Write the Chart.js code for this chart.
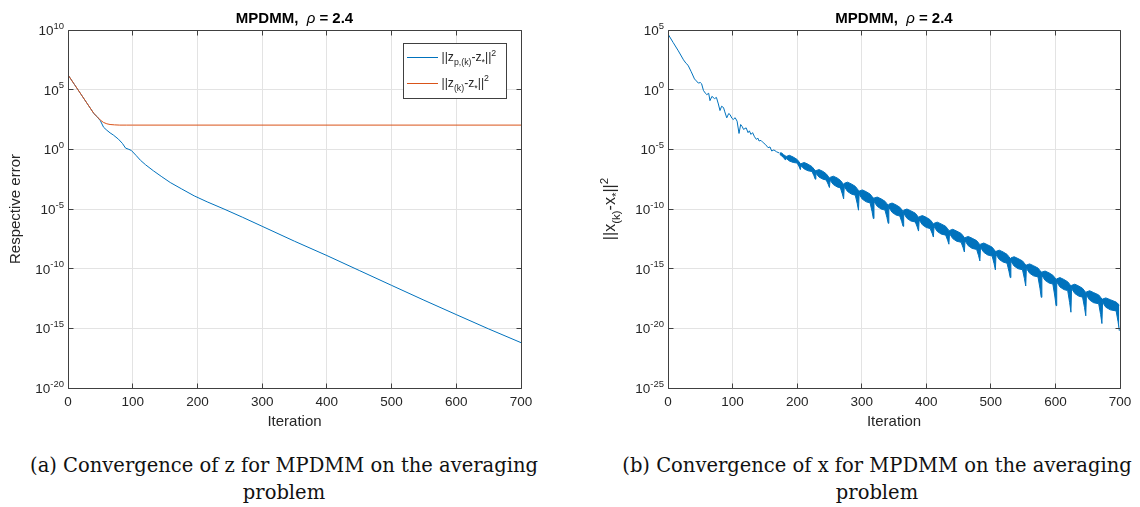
<!DOCTYPE html>
<html>
<head>
<meta charset="utf-8">
<script src="https://cdn.jsdelivr.net/npm/chart.js@4.4.0/dist/chart.umd.min.js"></script>
<style>
  html, body { margin: 0; padding: 0; background: #fff; }
  body { width: 1140px; height: 507px; position: relative; overflow: hidden; }
  canvas { position: absolute; top: 0; }
  #left { left: 0; }
  #right { left: 580px; }
  .cap { position: absolute; top: 452px; width: 600px; font-family: "DejaVu Serif", serif; font-size: 19.5px;
         line-height: 27px; text-align: center; color: #111; white-space: nowrap; }
</style>
</head>
<body>
<canvas id="left" width="560" height="440"></canvas>
<canvas id="right" width="560" height="440"></canvas>
<div class="cap" style="left:-16px">(a) Convergence of z for MPDMM on the averaging<br>problem</div>
<div class="cap" style="left:577px">(b) Convergence of x for MPDMM on the averaging<br>problem</div>
<script>
// all series values are log10 of the error

// left: z errors
const zpIter = [0, 10, 20, 30, 40, 45, 50, 55, 60, 65, 70, 78, 84, 89, 94, 98, 105, 112, 120, 132, 145, 158, 175, 195, 215, 241, 270, 300, 350, 400, 450, 500, 550, 600, 650, 700];
const zpLog  = [6.24, 5.43, 4.62, 3.81, 3.0, 2.72, 2.4, 1.85, 1.6, 1.38, 1.2, 0.85, 0.5, 0.1, 0.0, -0.1, -0.5, -0.92, -1.3, -1.8, -2.3, -2.78, -3.3, -3.9, -4.4, -5.0, -5.7, -6.45, -7.7, -8.9, -10.15, -11.4, -12.64, -13.85, -15.05, -16.2];
const zIter  = [0, 10, 20, 30, 40, 45, 50, 55, 60, 65, 72, 80, 90, 100, 700];
const zLog   = [6.24, 5.43, 4.62, 3.81, 3.0, 2.74, 2.45, 2.25, 2.14, 2.08, 2.05, 2.03, 2.03, 2.03, 2.03];

// right: x error, single line before the band starts
const xIter = [0, 8, 16, 24, 28, 31, 36, 41, 44, 47, 50, 52, 55, 58, 60, 63, 65, 68, 72, 75, 78, 80.5, 83, 86, 88, 91, 94, 96, 99, 101, 104, 107, 110, 112.5, 115, 117, 121, 124, 126, 128.5, 131, 134, 137, 139, 141, 144, 147.6, 151, 155, 158, 160.6, 164, 168, 172];
const xLog  = [4.66, 3.95, 3.25, 2.5, 2.2, 2.05, 1.5, 0.9, 0.73, 0.55, 0.6, 0.5, -0.08, -0.3, -0.42, -0.3, -0.92, -0.56, -0.75, -0.65, -1.2, -1.75, -1.39, -1.5, -1.86, -2.36, -2.0, -2.08, -2.4, -2.5, -2.35, -2.64, -3.67, -2.92, -3.1, -3.33, -3.2, -3.6, -3.45, -3.75, -3.6, -3.95, -4.17, -4.05, -4.3, -4.25, -4.45, -4.6, -4.86, -4.8, -5.14, -5.05, -5.2, -5.3];

// right: the fast oscillation from ~170 on, as upper / lower edge of the band
// (one row per scallop, the last point of a row is the spike)
const bandIter = [
  173, 176, 179, 182,
  183, 188, 194, 200, 203, 205,
  206, 211, 217, 223, 226, 228,
  229, 234, 240, 245, 248, 250,
  251, 256, 262, 267, 270, 272,
  273, 278, 284, 290, 293, 295,
  296, 301, 307, 313, 316, 318,
  319, 324, 330, 336, 339, 341,
  342, 347, 353, 359, 362, 364,
  365, 370, 376, 383, 386, 388,
  389, 394, 400, 406, 409, 411,
  412, 417, 423, 430, 433, 435,
  436, 441, 447, 454, 457, 459,
  460, 465, 471, 478, 481, 483,
  484, 489, 495, 502, 505, 507,
  508, 513, 519, 525, 528, 530,
  531, 536, 542, 549, 552, 554,
  555, 560, 566, 573, 576, 578,
  579, 584, 590, 596, 599, 601,
  602, 607, 613, 619, 622, 624,
  625, 630, 636, 642, 645, 647,
  648, 653, 659, 667, 670, 672,
  673, 678, 685, 694, 697, 699
];
const bandHigh = [
  -5.3, -5.3, -5.45, -5.55,
  -5.6, -5.5, -5.65, -5.85, -6.05, -6.2,
  -6.2, -6.1, -6.25, -6.45, -6.65, -6.8,
  -6.8, -6.7, -6.85, -7.05, -7.25, -7.4,
  -7.35, -7.25, -7.4, -7.6, -7.8, -7.95,
  -7.85, -7.75, -7.9, -8.1, -8.3, -8.45,
  -8.5, -8.4, -8.55, -8.75, -8.95, -9.1,
  -9.1, -9.0, -9.15, -9.35, -9.55, -9.7,
  -9.6, -9.5, -9.65, -9.85, -10.05, -10.2,
  -10.1, -10.0, -10.15, -10.35, -10.55, -10.7,
  -10.65, -10.55, -10.7, -10.9, -11.1, -11.25,
  -11.2, -11.1, -11.25, -11.45, -11.65, -11.8,
  -11.8, -11.7, -11.85, -12.05, -12.25, -12.4,
  -12.4, -12.3, -12.45, -12.65, -12.85, -13.0,
  -12.95, -12.85, -13.0, -13.2, -13.4, -13.55,
  -13.55, -13.45, -13.6, -13.8, -14.0, -14.15,
  -14.1, -14.0, -14.15, -14.35, -14.55, -14.7,
  -14.7, -14.6, -14.75, -14.95, -15.15, -15.3,
  -15.3, -15.2, -15.35, -15.55, -15.75, -15.9,
  -15.85, -15.75, -15.9, -16.1, -16.3, -16.45,
  -16.4, -16.3, -16.45, -16.65, -16.85, -17.0,
  -16.95, -16.85, -17.0, -17.2, -17.4, -17.55,
  -17.55, -17.45, -17.6, -17.8, -17.95, -18.05
];
const bandLow = [
  -5.42, -5.55, -5.7, -5.9,
  -5.75, -5.98, -6.1, -6.15, -6.45, -6.7,
  -6.38, -6.65, -6.8, -6.86, -7.21, -7.5,
  -7.01, -7.33, -7.5, -7.57, -7.92, -8.2,
  -7.59, -7.95, -8.15, -8.23, -8.74, -9.15,
  -8.12, -8.53, -8.75, -8.84, -9.53, -10.1,
  -8.77, -9.18, -9.4, -9.49, -10.21, -10.8,
  -9.37, -9.78, -10.0, -10.09, -10.7, -11.2,
  -9.87, -10.28, -10.5, -10.59, -11.06, -11.45,
  -10.37, -10.78, -11.0, -11.09, -11.51, -11.85,
  -10.92, -11.33, -11.55, -11.64, -12.03, -12.35,
  -11.47, -11.88, -12.1, -12.19, -12.61, -12.95,
  -12.07, -12.48, -12.7, -12.79, -13.24, -13.6,
  -12.67, -13.08, -13.3, -13.39, -13.92, -14.35,
  -13.22, -13.63, -13.85, -13.94, -14.58, -15.1,
  -13.82, -14.23, -14.45, -14.54, -15.21, -15.75,
  -14.37, -14.78, -15.0, -15.09, -15.84, -16.45,
  -14.97, -15.38, -15.6, -15.69, -16.63, -17.4,
  -15.57, -15.98, -16.2, -16.29, -17.29, -18.1,
  -16.12, -16.53, -16.75, -16.84, -17.84, -18.65,
  -16.67, -17.08, -17.3, -17.39, -18.25, -18.95,
  -17.22, -17.63, -17.85, -17.94, -18.85, -19.6,
  -17.82, -18.23, -18.45, -18.54, -19.45, -20.2
];

// tick exponents
const leftTicks = [-20, -15, -10, -5, 0, 5, 10];
const rightTicks = [-25, -20, -15, -10, -5, 0, 5];

const BLUE = '#0072BD';
const ORANGE = '#D95319';
const TEXT = '#262626';
const AXIS = '#404040';
const GRID = '#e3e3e3';
const SANS = '"Liberation Sans", Arial, Helvetica, sans-serif';

const pts = (xs, ys) => xs.map((x, i) => ({ x: x, y: 10 ** ys[i] }));
const al = v => Math.round(v - 0.5) + 0.5;

// text with sub / superscripts: [text, 'n' | 'b' (sub) | 'p' (sup)]
function richWidth(ctx, parts, size) {
  let w = 0;
  for (const [t, k] of parts) {
    ctx.font = (k === 'n' ? size : size * 0.72) + 'px ' + SANS;
    w += ctx.measureText(t).width;
  }
  return w;
}
function drawRich(ctx, parts, x, y, size) {
  for (const [t, k] of parts) {
    const s = k === 'n' ? size : size * 0.72;
    const dy = k === 'b' ? size * 0.34 : (k === 'p' ? -size * 0.45 : 0);
    ctx.font = s + 'px ' + SANS;
    ctx.fillText(t, x, y + dy);
    x += ctx.measureText(t).width;
  }
}

function makeDecor(cfg) {
  return {
    id: 'decor',
    afterDraw(chart) {
      const { ctx, chartArea: a } = chart;
      const xs = chart.scales.x, ys = chart.scales.y;
      const L = al(a.left), R = al(a.right), T = al(a.top), B = al(a.bottom);
      ctx.save();
      // box and inward ticks
      ctx.strokeStyle = AXIS;
      ctx.lineWidth = 1;
      ctx.beginPath();
      ctx.rect(L, T, R - L, B - T);
      for (const t of xs.ticks) {
        const p = al(xs.getPixelForValue(t.value));
        ctx.moveTo(p, B); ctx.lineTo(p, B - 5);
        ctx.moveTo(p, T); ctx.lineTo(p, T + 5);
      }
      for (const t of ys.ticks) {
        const p = al(ys.getPixelForValue(t.value));
        ctx.moveTo(L, p); ctx.lineTo(L + 5, p);
        ctx.moveTo(R, p); ctx.lineTo(R - 5, p);
      }
      ctx.stroke();

      // y tick labels 10^k
      ctx.fillStyle = TEXT;
      ctx.textAlign = 'left';
      ctx.textBaseline = 'alphabetic';
      for (const e of cfg.yTicks) {
        const p = ys.getPixelForValue(10 ** e);
        const ex = String(e);
        ctx.font = '9.5px ' + SANS;
        const ew = ctx.measureText(ex).width;
        ctx.font = '13.5px ' + SANS;
        const bw = ctx.measureText('10').width;
        const xEnd = a.left - 4;
        ctx.fillText('10', xEnd - ew - bw, p + 5);
        ctx.font = '9.5px ' + SANS;
        ctx.fillText(ex, xEnd - ew, p - 1.5);
      }

      // title
      ctx.fillStyle = '#000';
      let w = 0;
      for (const [t, f] of cfg.title) { ctx.font = f; w += ctx.measureText(t).width; }
      let tx = (a.left + a.right) / 2 - w / 2;
      for (const [t, f] of cfg.title) { ctx.font = f; ctx.fillText(t, tx, 22.5); tx += ctx.measureText(t).width; }

      // rotated y label with subscripts
      if (cfg.yLabel) {
        ctx.fillStyle = TEXT;
        ctx.save();
        ctx.translate(cfg.yLabelX, (a.top + a.bottom) / 2);
        ctx.rotate(-Math.PI / 2);
        const lw = richWidth(ctx, cfg.yLabel, 16);
        drawRich(ctx, cfg.yLabel, -lw / 2, 0, 16);
        ctx.restore();
      }

      // legend
      if (cfg.legend) {
        const g = cfg.legend;
        ctx.fillStyle = '#fff';
        ctx.fillRect(g.x, g.y, g.w, g.h);
        ctx.strokeStyle = AXIS;
        ctx.strokeRect(al(g.x), al(g.y), g.w, g.h);
        g.rows.forEach((row, i) => {
          const ly = g.y + 14 + i * 25.6;
          ctx.strokeStyle = row.color;
          ctx.beginPath();
          ctx.moveTo(g.x + 4, Math.round(ly) + 0.5);
          ctx.lineTo(g.x + 35, Math.round(ly) + 0.5);
          ctx.stroke();
          ctx.fillStyle = TEXT;
          drawRich(ctx, row.parts, g.x + 38.5, ly + 4, 12.2);
        });
      }
      ctx.restore();
    }
  };
}

function axesOptions(yTicks, yWidth, rightPad, yTitle) {
  return {
    responsive: false,
    animation: false,
    devicePixelRatio: 1,
    layout: { padding: { top: 30, right: rightPad, left: 0, bottom: 0 } },
    plugins: { legend: { display: false }, tooltip: { enabled: false }, title: { display: false } },
    elements: { point: { radius: 0 }, line: { tension: 0, borderWidth: 1 } },
    scales: {
      x: {
        type: 'linear', min: 0, max: 700,
        afterFit: s => { s.height = 52; },
        ticks: { stepSize: 100, color: TEXT, font: { family: SANS, size: 13.5 }, padding: 6, maxRotation: 0 },
        grid: { color: GRID, drawTicks: false },
        border: { display: false },
        title: { display: true, text: 'Iteration', color: TEXT, font: { family: SANS, size: 15 }, padding: { top: 0, bottom: 9 } }
      },
      y: {
        type: 'logarithmic',
        min: 10 ** yTicks[0], max: 10 ** yTicks[yTicks.length - 1],
        afterBuildTicks: s => { s.ticks = yTicks.map(e => ({ value: 10 ** e })); },
        afterFit: s => { s.width = yWidth; },
        ticks: { display: false },
        grid: { color: GRID, drawTicks: false },
        border: { display: false },
        title: yTitle
          ? { display: true, text: yTitle, color: TEXT, font: { family: SANS, size: 15 }, padding: { top: 7, bottom: 0 } }
          : { display: false }
      }
    }
  };
}

const titleParts = [['MPDMM,  ', 'bold 15px ' + SANS], ['\u03C1', 'italic 15px ' + SANS], [' = 2.4', 'bold 15px ' + SANS]];

new Chart(document.getElementById('left'), {
  type: 'line',
  data: {
    datasets: [
      { label: 'zp', data: pts(zpIter, zpLog), borderColor: BLUE, order: 1 },
      { label: 'z', data: pts(zIter, zLog), borderColor: ORANGE, order: 0 }
    ]
  },
  options: axesOptions(leftTicks, 68, 39, 'Respective error'),
  plugins: [makeDecor({
    yTicks: leftTicks,
    title: titleParts,
    legend: {
      x: 403, y: 43, w: 103, h: 55,
      rows: [
        { color: BLUE, parts: [['||z', 'n'], ['p,(k)', 'b'], ['-z', 'n'], ['*', 'b'], ['||', 'n'], ['2', 'p']] },
        { color: ORANGE, parts: [['||z', 'n'], ['(k)', 'b'], ['-z', 'n'], ['*', 'b'], ['||', 'n'], ['2', 'p']] }
      ]
    }
  })]
});

new Chart(document.getElementById('right'), {
  type: 'line',
  data: {
    datasets: [
      { label: 'x', data: pts(xIter, xLog), borderColor: BLUE },
      { label: 'band high', data: pts(bandIter, bandHigh), borderColor: BLUE, fill: false },
      { label: 'band low', data: pts(bandIter, bandLow), borderColor: BLUE, backgroundColor: BLUE, fill: '-1' }
    ]
  },
  options: axesOptions(rightTicks, 88, 20, null),
  plugins: [makeDecor({
    yTicks: rightTicks,
    title: titleParts,
    yLabelX: 35,
    yLabel: [['||x', 'n'], ['(k)', 'b'], ['-x', 'n'], ['*', 'b'], ['||', 'n'], ['2', 'p']]
  })]
});
</script>
</body>
</html>
